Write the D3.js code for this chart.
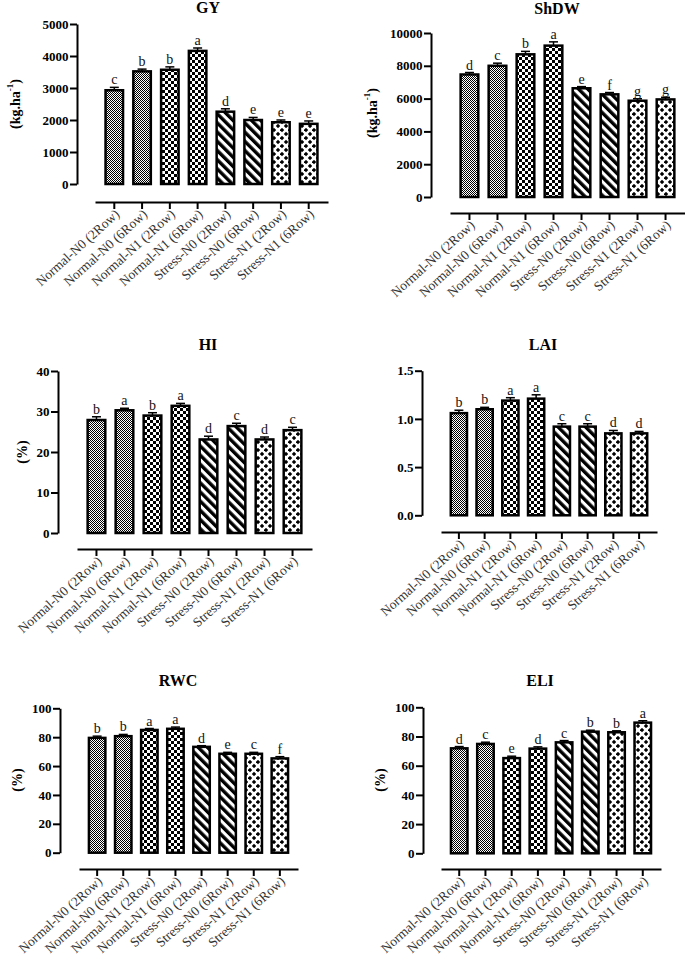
<!DOCTYPE html>
<html><head><meta charset="utf-8">
<script src="https://cdn.jsdelivr.net/npm/d3@7/dist/d3.min.js"></script>
<style>
html,body{margin:0;padding:0;background:#fff;}
svg{display:block;}
text{font-family:"Liberation Serif","Times New Roman",serif;}
</style></head>
<body>
<svg id="chart" width="685" height="962"></svg>
<script>
const categories = ["Normal-N0 (2Row)","Normal-N0 (6Row)","Normal-N1 (2Row)","Normal-N1 (6Row)",
                    "Stress-N0 (2Row)","Stress-N0 (6Row)","Stress-N1 (2Row)","Stress-N1 (6Row)"];

const gyValues  = [2930, 3520, 3570, 4160, 2260, 2000, 1930, 1880];
const gyErrors  = [90, 70, 90, 90, 90, 80, 70, 90];
const gyLetters = ["c","b","b","a","d","e","e","e"];
const gyTicks   = [0, 1000, 2000, 3000, 4000, 5000];

const shdwValues  = [7470, 8000, 8700, 9230, 6630, 6260, 5870, 5950];
const shdwErrors  = [120, 160, 180, 230, 100, 110, 120, 130];
const shdwLetters = ["d","c","b","a","e","f","g","g"];
const shdwTicks   = [0, 2000, 4000, 6000, 8000, 10000];

const hiValues  = [27.9, 30.3, 29.0, 31.4, 23.1, 26.4, 23.1, 25.4];
const hiErrors  = [0.8, 0.5, 0.7, 0.6, 0.8, 0.7, 0.6, 0.7];
const hiLetters = ["b","a","b","a","d","c","d","c"];
const hiTicks   = [0, 10, 20, 30, 40];

const laiValues  = [1.06, 1.10, 1.19, 1.21, 0.92, 0.92, 0.85, 0.85];
const laiErrors  = [0.03, 0.02, 0.03, 0.04, 0.03, 0.03, 0.03, 0.02];
const laiLetters = ["b","b","a","a","c","c","d","d"];
const laiTicks   = [0, 0.5, 1.0, 1.5];

const rwcValues  = [79.5, 80.7, 85.0, 85.8, 73.3, 68.5, 68.5, 65.3];
const rwcErrors  = [1.2, 1.2, 1.0, 1.2, 0.8, 1.0, 1.0, 1.2];
const rwcLetters = ["b","b","a","a","d","e","c","f"];
const rwcTicks   = [0, 20, 40, 60, 80, 100];

const eliValues  = [71.9, 74.9, 65.2, 71.7, 76.0, 83.3, 82.9, 89.5];
const eliErrors  = [1.2, 1.2, 1.3, 1.2, 1.2, 1.0, 1.0, 1.3];
const eliLetters = ["d","c","e","d","c","b","b","a"];
const eliTicks   = [0, 20, 40, 60, 80, 100];

// layout (positions / styles only)
const panels = [
  {title:"GY",   values:gyValues,   errors:gyErrors,   letters:gyLetters,   ticks:gyTicks,   fmt:d3.format("d"),
   yAxisX:77,  yRange:[184,24],     xRange:[95,328],  xAxisY:202, titleX:208, titleY:13,  ylab:"kg", ylabX:15, ylabY:104},
  {title:"ShDW", values:shdwValues, errors:shdwErrors, letters:shdwLetters, ticks:shdwTicks, fmt:d3.format("d"),
   yAxisX:431, yRange:[197,33],     xRange:[450,685], xAxisY:213, titleX:557, titleY:14,  ylab:"kg", ylabX:372, ylabY:113},
  {title:"HI",   values:hiValues,   errors:hiErrors,   letters:hiLetters,   ticks:hiTicks,   fmt:d3.format("d"),
   yAxisX:58,  yRange:[533,371],    xRange:[77,312],  xAxisY:549, titleX:208, titleY:350, ylab:"pct", ylabX:22, ylabY:452},
  {title:"LAI",  values:laiValues,  errors:laiErrors,  letters:laiLetters,  ticks:laiTicks,  fmt:d3.format(".1f"),
   yAxisX:422, yRange:[515.3,370.7],xRange:[441,657], xAxisY:532, titleX:543, titleY:350, ylab:null},
  {title:"RWC",  values:rwcValues,  errors:rwcErrors,  letters:rwcLetters,  ticks:rwcTicks,  fmt:d3.format("d"),
   yAxisX:60,  yRange:[852.7,708.3],xRange:[79,298],  xAxisY:869, titleX:178, titleY:686, ylab:"pct", ylabX:17, ylabY:780},
  {title:"ELI",  values:eliValues,  errors:eliErrors,  letters:eliLetters,  ticks:eliTicks,  fmt:d3.format("d"),
   yAxisX:423, yRange:[853.3,707.3],xRange:[441,661], xAxisY:869, titleX:540, titleY:686, ylab:"pct", ylabX:380, ylabY:780}
];

const patternOf = ["pFine","pFine","pCheck","pCheck","pStripe","pStripe","pDots","pDots"];

const svg = d3.select("#chart");
const defs = svg.append("defs");

// fine checker
let p = defs.append("pattern").attr("id","pFine").attr("patternUnits","userSpaceOnUse").attr("width",2).attr("height",2);
p.append("rect").attr("width",2).attr("height",2).attr("fill","#fff");
p.append("rect").attr("x",0).attr("y",0).attr("width",1).attr("height",1).attr("fill","#000");
p.append("rect").attr("x",1).attr("y",1).attr("width",1).attr("height",1).attr("fill","#000");
// coarse checker
p = defs.append("pattern").attr("id","pCheck").attr("patternUnits","userSpaceOnUse").attr("width",6).attr("height",6);
p.append("rect").attr("width",6).attr("height",6).attr("fill","#fff");
p.append("rect").attr("x",0).attr("y",0).attr("width",3).attr("height",3).attr("fill","#000");
p.append("rect").attr("x",3).attr("y",3).attr("width",3).attr("height",3).attr("fill","#000");
// diagonal stripes
p = defs.append("pattern").attr("id","pStripe").attr("patternUnits","userSpaceOnUse").attr("width",6.5).attr("height",10)
  .attr("patternTransform","rotate(-45)");
p.append("rect").attr("width",6.5).attr("height",10).attr("fill","#fff");
p.append("rect").attr("x",0).attr("y",0).attr("width",3.4).attr("height",10).attr("fill","#000");
// diamond dots
p = defs.append("pattern").attr("id","pDots").attr("patternUnits","userSpaceOnUse").attr("width",8).attr("height",8);
p.append("rect").attr("width",8).attr("height",8).attr("fill","#fff");
[[2,2],[6,6]].forEach(([cx,cy])=>{
  p.append("path").attr("d",`M${cx},${cy-2.2}L${cx+2.2},${cy}L${cx},${cy+2.2}L${cx-2.2},${cy}Z`).attr("fill","#000");
});

panels.forEach(P => {
  const g = svg.append("g");
  const y = d3.scaleLinear().domain([0, d3.max(P.ticks)]).range(P.yRange);
  const x = d3.scaleBand().domain(categories).range(P.xRange).paddingInner(0.37).paddingOuter(0.38);

  // title
  g.append("text").attr("x",P.titleX).attr("y",P.titleY).attr("text-anchor","middle")
    .attr("font-size",16).attr("font-weight","bold").text(P.title);

  // y axis
  const ya = g.append("g").attr("transform",`translate(${P.yAxisX},0)`)
    .call(d3.axisLeft(y).tickValues(P.ticks).tickFormat(P.fmt).tickSize(7).tickSizeOuter(0).tickPadding(1.5));
  ya.selectAll("path,line").attr("stroke","#000").attr("stroke-width",2);
  ya.selectAll("text").attr("font-size",13).attr("font-weight","bold").attr("fill","#000")
    .attr("font-family","'Liberation Serif',serif");

  // y label
  if (P.ylab) {
    const t = g.append("text").attr("transform",`translate(${P.ylabX},${P.ylabY}) rotate(-90)`)
      .attr("text-anchor","middle").attr("dominant-baseline","central")
      .attr("font-size",14).attr("font-weight","bold");
    if (P.ylab === "kg") {
      t.append("tspan").text("(kg.ha");
      t.append("tspan").attr("baseline-shift","super").attr("font-size",9).text("-1");
      t.append("tspan").text(")");
    } else {
      t.text("(%)");
    }
  }

  // bars
  const data = categories.map((c,i)=>({c, v:P.values[i], e:P.errors[i], l:P.letters[i], pat:patternOf[i]}));
  const y0 = y(0);
  g.selectAll("rect.bar").data(data).enter().append("rect").attr("class","bar")
    .attr("x",d=>x(d.c)).attr("width",x.bandwidth())
    .attr("y",d=>y(d.v)).attr("height",d=>y0-y(d.v))
    .attr("fill",d=>`url(#${d.pat})`).attr("stroke","#000").attr("stroke-width",2.5);

  // error bars
  data.forEach(d=>{
    const cx = x(d.c)+x.bandwidth()/2;
    g.append("line").attr("x1",cx).attr("x2",cx).attr("y1",y(d.v)).attr("y2",y(d.v+d.e))
      .attr("stroke","#000").attr("stroke-width",1.5);
    g.append("line").attr("x1",cx-4.5).attr("x2",cx+4.5).attr("y1",y(d.v+d.e)).attr("y2",y(d.v+d.e))
      .attr("stroke","#000").attr("stroke-width",1.5);
    g.append("text").attr("x",cx).attr("y",y(d.v+d.e)-3).attr("text-anchor","middle")
      .attr("font-size",14).attr("fill","#111").text(d.l);
  });

  // x axis (detached)
  const xa = g.append("g").attr("transform",`translate(0,${P.xAxisY})`)
    .call(d3.axisBottom(x).tickSize(7).tickSizeOuter(0));
  xa.selectAll("path,line").attr("stroke","#000").attr("stroke-width",2);
  xa.selectAll("text").remove();
  xa.selectAll(".tick").append("text")
    .attr("transform","translate(4,11) rotate(-42)")
    .attr("text-anchor","end").attr("dominant-baseline","middle")
    .attr("font-size",13.5).attr("fill","#333").attr("font-family","'Liberation Serif',serif")
    .text(d=>d);
});
</script>
</body></html>
